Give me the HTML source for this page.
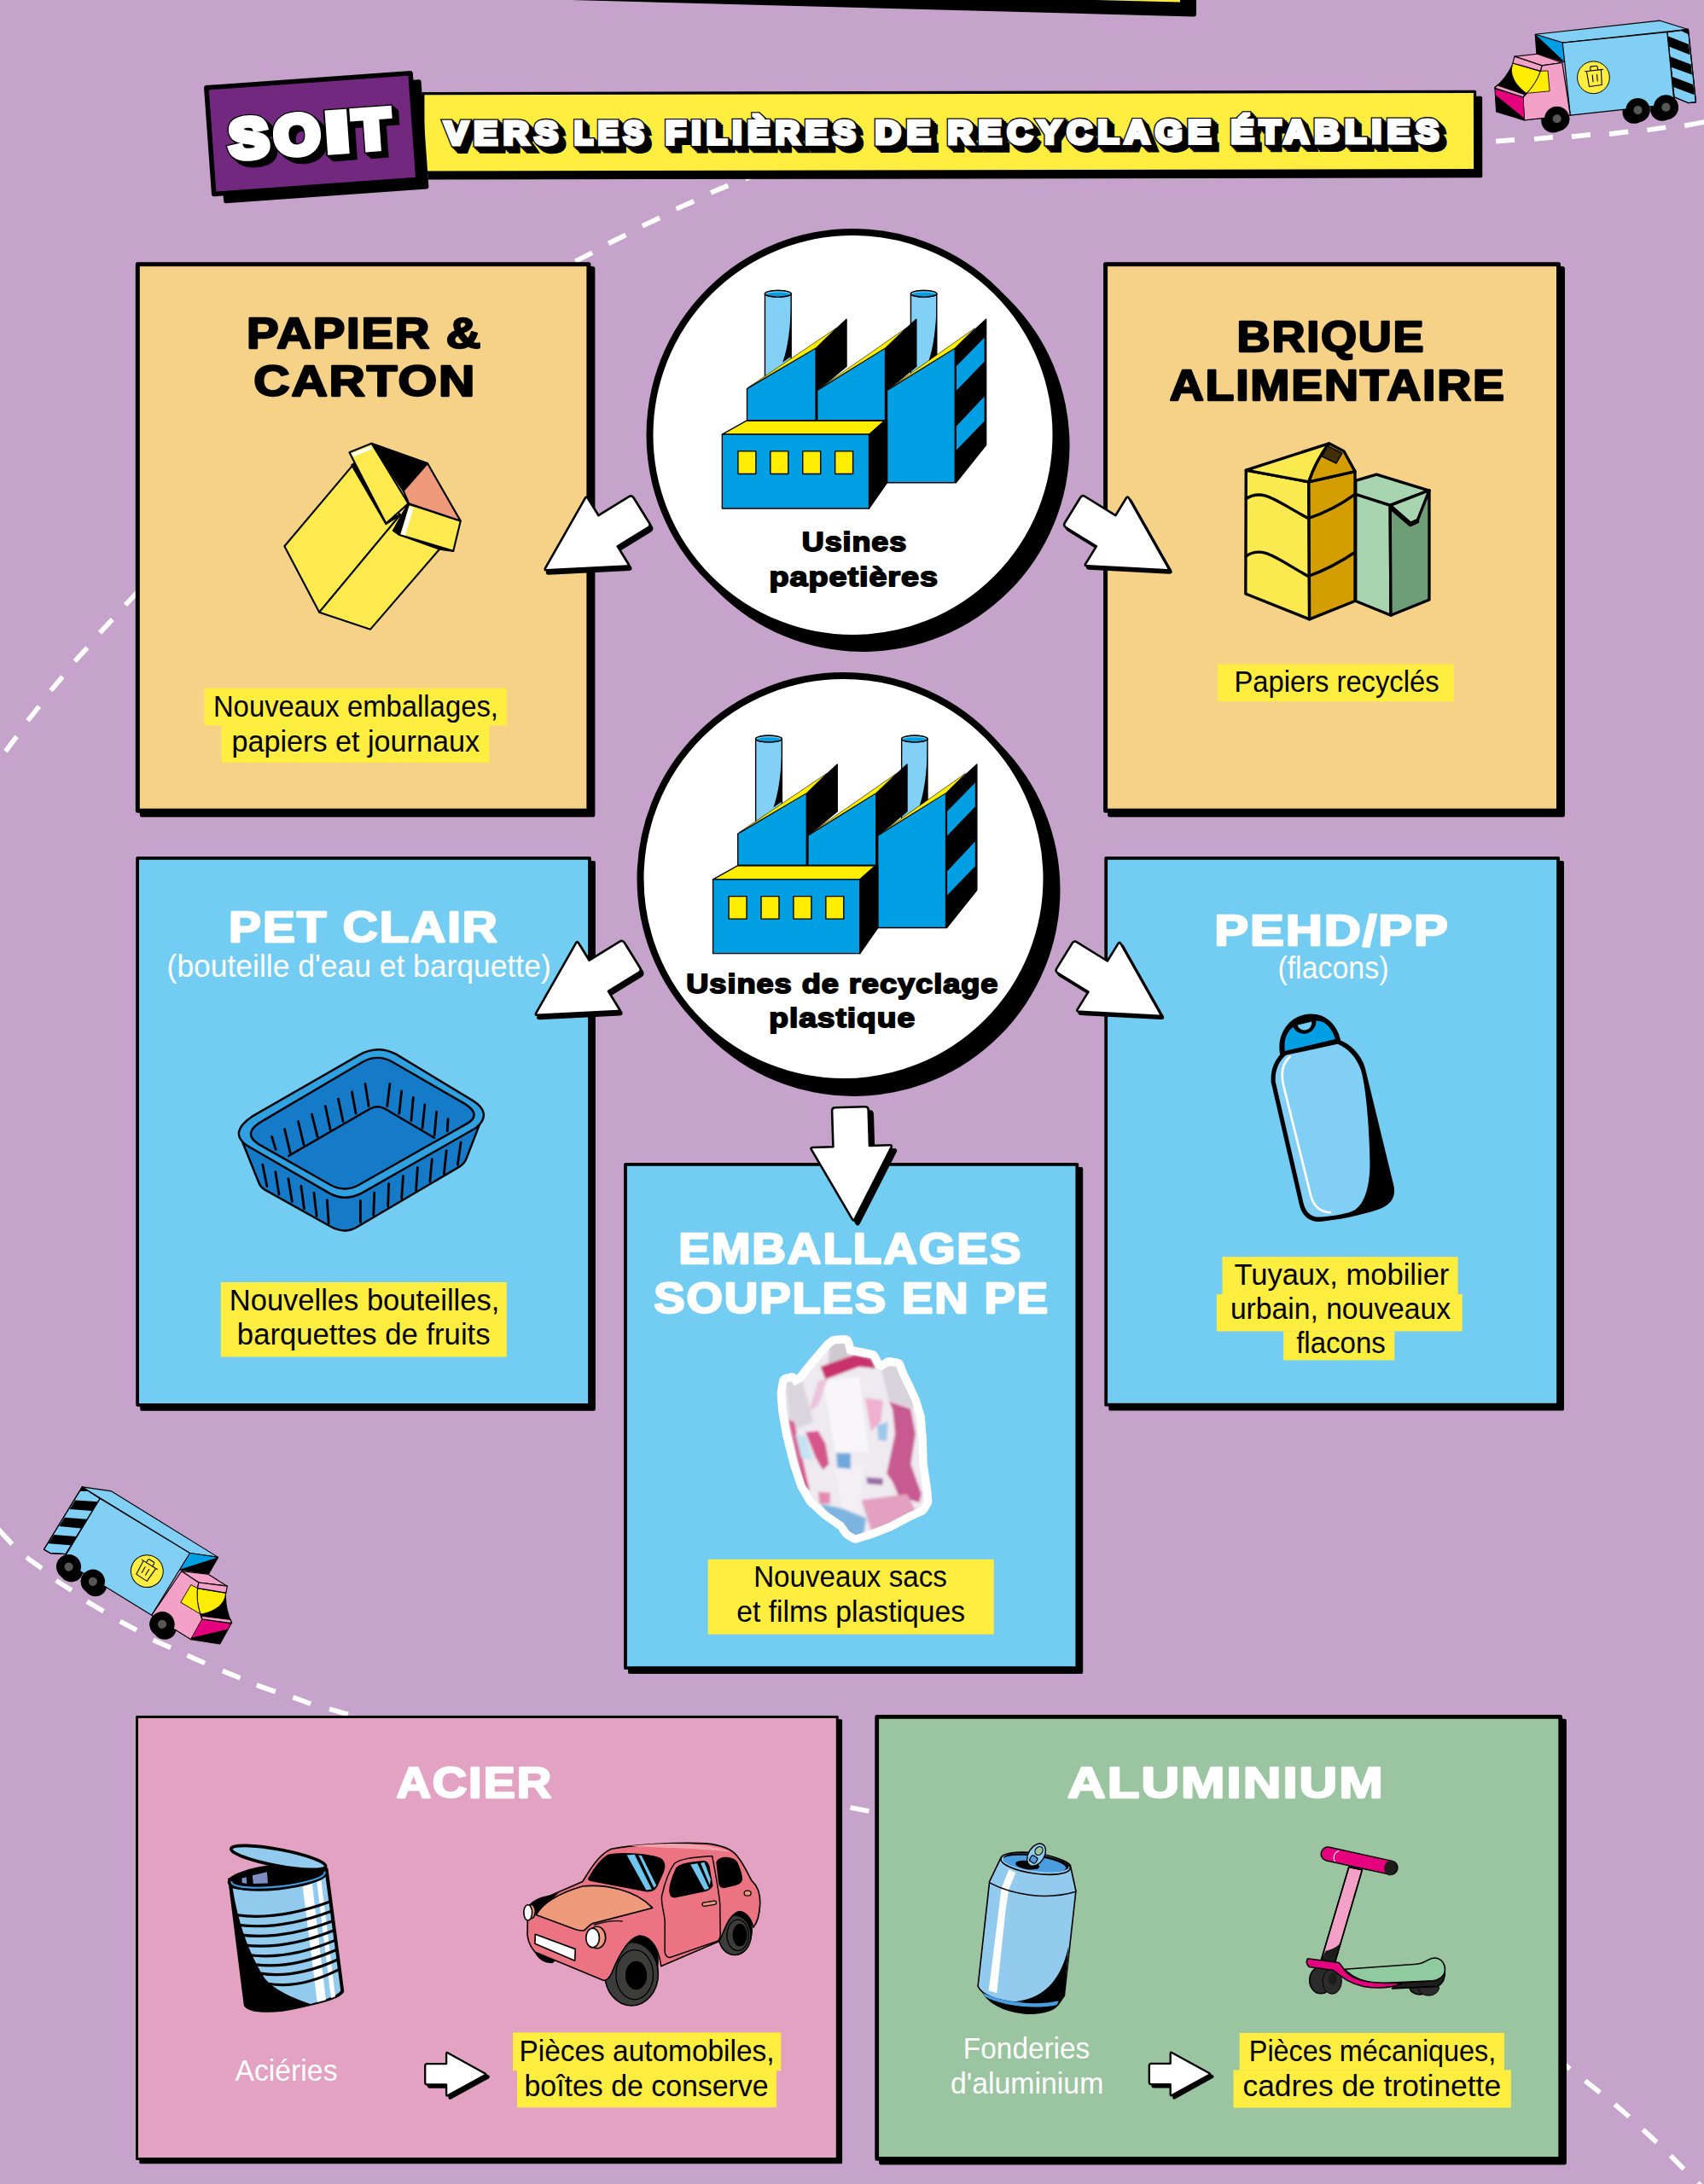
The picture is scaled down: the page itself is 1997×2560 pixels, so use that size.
<!DOCTYPE html>
<html lang="fr"><head><meta charset="utf-8"><title>Recyclage</title>
<style>
html,body{margin:0;padding:0;background:#C5A3CB;}
svg{display:block;}
text{font-family:"Liberation Sans",sans-serif;}
</style></head><body>
<svg width="1997" height="2560" viewBox="0 0 1997 2560">
<rect width="1997" height="2560" fill="#C5A3CB"/>
<defs><g id="truck" transform="scale(0.08216)" stroke="#000" stroke-width="14" stroke-linejoin="round">
<circle cx="2068.8" cy="1234.1" r="164" fill="#000" stroke="none"/>
<circle cx="2123.8" cy="1206.1" r="172" fill="#000" stroke="none"/>
<circle cx="2469.3" cy="1192.7" r="168" fill="#000" stroke="none"/>
<circle cx="2524.3" cy="1164.7" r="176" fill="#000" stroke="none"/>
<circle cx="915" cy="1358" r="170" fill="#000" stroke="none"/>
<circle cx="970" cy="1330" r="178" fill="#000" stroke="none"/>
<polygon points="660,125 2438.8,-70.9 2842.2,53.9 1050,245" fill="#82CFF5" stroke="#000" />
<polygon points="660,125 1050,245 1075,520 680,395" fill="#000" stroke="#000" />
<polygon points="672,135 1050,250 1072,512" fill="#009FE3" stroke="none" />
<polygon points="2541.3,94.9 2842.2,53.7 2951.4,1094.3 2846.6,1103.6 2641.6,1020" fill="#82CFF5" stroke="#000" />
<polygon points="2549.8,149.3 2566.5,299.7 2867.4,416.7 2850.7,266.3" fill="#000" stroke="none" />
<polygon points="2583.2,441.9 2599.9,592.3 2896.8,700.9 2880.1,554.7" fill="#000" stroke="none" />
<polygon points="2612.6,726.1 2633.3,876.5 2930.2,989.3 2913.5,843.1" fill="#000" stroke="none" />
<polygon points="2729.6,69.9 2842.2,53.2 2846.6,124.3" fill="#000" stroke="none" />
<polygon points="2541.3,94.9 2842.2,53.7 2951.4,1094.3 2846.6,1103.6 2641.6,1020" fill="none" stroke="#000" />
<polygon points="1050,245 2541.3,94.9 2643.8,1118.6 1160,1280" fill="#82CFF5" stroke="#000" />
<circle cx="2123.8" cy="1206.1" r="172" fill="#000" stroke="none"/>
<circle cx="2123.8" cy="1206.1" r="62" fill="#575756" stroke="none"/>
<circle cx="2524.3" cy="1164.7" r="176" fill="#000" stroke="none"/>
<circle cx="2524.3" cy="1164.7" r="62" fill="#575756" stroke="none"/>
<circle cx="1490" cy="740" r="230" fill="#FFED3F" stroke-width="12"/>
<g fill="none" stroke-width="13" stroke-linecap="round"><path d="M1395,665 L1430,870 L1610,845 L1600,640"/><path d="M1370,655 L1625,625"/><path d="M1450,640 L1445,600 Q1445,585 1460,583 L1530,575 Q1545,573 1548,588 L1552,630"/><path d="M1475,705 L1485,800"/><path d="M1540,698 L1548,792"/></g>
<polygon points="365,440 690,405 1045,530 755,570" fill="#F3A1C6" stroke="#000" />
<polygon points="755,570 1045,530 1160,1280 505,1350 485,1020 540,965 735,650" fill="#F3A1C6" stroke="#000" />
<path d="M345,535 Q250,760 80,885 L500,1010 L540,965 L735,650 Z" fill="#000"/>
<path d="M340,538 L733,652 C690,780 620,880 535,965 C420,890 300,740 325,600 Z" fill="#FFED00" stroke-width="10"/>
<path d="M735,650 L840,645 L865,935 L540,965 C620,880 690,780 735,650 Z" fill="#FFED00" stroke-width="10"/>
<polygon points="365,440 755,570 735,650 340,535" fill="#F3A1C6" stroke="#000" />
<polygon points="85,900 485,1020 505,1350 105,1230" fill="#000" stroke="#000" />
<polygon points="92,908 485,1024 502,1318 96,992" fill="#E5007D" stroke="none" />
<polygon points="80,890 120,852 515,985 485,1020" fill="#F3A1C6" stroke="#000" />
<circle cx="970" cy="1330" r="178" fill="#000" stroke="none"/>
<circle cx="970" cy="1330" r="62" fill="#575756" stroke="none"/>
</g>
</defs>
<path d="M1753.1,165.7L1775.1,163.9 M1798,163L1819.9,160.8 M1841.9,160.2L1863.9,157.8 M1885.9,157.1L1908.2,154.4 M1930.4,152.5L1952.3,149.2 M1974.1,147.4L1998,143.0 M873.5,209.5L894,202 M833,225.9L853.3,217.5 M792.6,244.9L813.2,235.8 M752.9,264.8L773.2,255.3 M713.2,285.4L733.4,275.4 M674.3,306.3L694.2,296.3 M147,709.1L161.5,693.6 M117,741.8L131.8,726 M87.7,775.1L102.3,759.3 M59.5,809.4L73.4,793.1 M32.5,844.8L45.9,827.9 M6.5,880.7L19.5,863.3 M-2,1792.3L14.2,1810 M31,1825.5L49,1838.4 M65.8,1852.6L83.9,1864.2 M102,1877.2L121.4,1888.8 M140.7,1900.4L160.1,1910.7 M179.5,1922.3L200.1,1931.4 M219.5,1940.4L240.1,1949.5 M260.8,1958.5L281.5,1966.8 M300.8,1975.3L322.8,1983 M343.4,1989.5L364.1,1997.2 M386,2003.2L408,2009.6 M996.4,2118.8L1018.4,2122.9 M1823.1,2411.4L1839.9,2425.1 M1857.8,2439L1875.1,2452.8 M1892.5,2466.7L1909.2,2481.2 M1925.4,2496.2L1941.6,2511.2 M1957.8,2526.8L1973.4,2542.4 M1989.6,2558.6L2003,2572" fill="none" stroke="#fff" stroke-width="5.7"/>
<path d="M669,0 L1402,0 L1402,17 Q1402,19.5 1399,19.4 Z" fill="#000"/>
<polygon points="1284,0 1383,0 1383,2.6" fill="#FFED3F"/>
<use href="#truck" transform="translate(1745,30)"/>
<use href="#truck" transform="translate(190,1903.8) rotate(25.5) scale(-1,1) translate(-79.7,-109.3)"/>
<g transform="rotate(-0.107 497 155)">
<rect x="502.9" y="116.6" width="1232.7" height="92.4" fill="#000" stroke="#000" stroke-width="3.2" stroke-linejoin="round"/>
<rect x="495.9" y="109.6" width="1232.7" height="92.4" fill="#FFED3F" stroke="#000" stroke-width="3.2" stroke-linejoin="round"/>
<text x="521.01" y="169.3" font-size="38" font-weight="bold" letter-spacing="6.5" textLength="140.04" lengthAdjust="spacingAndGlyphs" stroke-linejoin="miter" stroke-miterlimit="2.5" fill="#000" stroke="#000" stroke-width="7.199999999999999" transform="translate(7.20,7.20)">VERS</text>
<text x="521.01" y="169.3" font-size="38" font-weight="bold" letter-spacing="6.5" textLength="140.04" lengthAdjust="spacingAndGlyphs" stroke-linejoin="miter" stroke-miterlimit="2.5" fill="#000" stroke="#000" stroke-width="7.199999999999999" transform="translate(5.40,5.40)">VERS</text>
<text x="521.01" y="169.3" font-size="38" font-weight="bold" letter-spacing="6.5" textLength="140.04" lengthAdjust="spacingAndGlyphs" stroke-linejoin="miter" stroke-miterlimit="2.5" fill="#000" stroke="#000" stroke-width="7.199999999999999" transform="translate(3.60,3.60)">VERS</text>
<text x="521.01" y="169.3" font-size="38" font-weight="bold" letter-spacing="6.5" textLength="140.04" lengthAdjust="spacingAndGlyphs" stroke-linejoin="miter" stroke-miterlimit="2.5" fill="#000" stroke="#000" stroke-width="7.199999999999999" transform="translate(1.80,1.80)">VERS</text>
<text x="672.87" y="169.3" font-size="38" font-weight="bold" letter-spacing="6.5" textLength="87.88" lengthAdjust="spacingAndGlyphs" stroke-linejoin="miter" stroke-miterlimit="2.5" fill="#000" stroke="#000" stroke-width="7.199999999999999" transform="translate(7.20,7.20)">LES</text>
<text x="672.87" y="169.3" font-size="38" font-weight="bold" letter-spacing="6.5" textLength="87.88" lengthAdjust="spacingAndGlyphs" stroke-linejoin="miter" stroke-miterlimit="2.5" fill="#000" stroke="#000" stroke-width="7.199999999999999" transform="translate(5.40,5.40)">LES</text>
<text x="672.87" y="169.3" font-size="38" font-weight="bold" letter-spacing="6.5" textLength="87.88" lengthAdjust="spacingAndGlyphs" stroke-linejoin="miter" stroke-miterlimit="2.5" fill="#000" stroke="#000" stroke-width="7.199999999999999" transform="translate(3.60,3.60)">LES</text>
<text x="672.87" y="169.3" font-size="38" font-weight="bold" letter-spacing="6.5" textLength="87.88" lengthAdjust="spacingAndGlyphs" stroke-linejoin="miter" stroke-miterlimit="2.5" fill="#000" stroke="#000" stroke-width="7.199999999999999" transform="translate(1.80,1.80)">LES</text>
<text x="779.95" y="169.3" font-size="38" font-weight="bold" letter-spacing="6.5" textLength="229.29" lengthAdjust="spacingAndGlyphs" stroke-linejoin="miter" stroke-miterlimit="2.5" fill="#000" stroke="#000" stroke-width="7.199999999999999" transform="translate(7.20,7.20)">FILIÈRES</text>
<text x="779.95" y="169.3" font-size="38" font-weight="bold" letter-spacing="6.5" textLength="229.29" lengthAdjust="spacingAndGlyphs" stroke-linejoin="miter" stroke-miterlimit="2.5" fill="#000" stroke="#000" stroke-width="7.199999999999999" transform="translate(5.40,5.40)">FILIÈRES</text>
<text x="779.95" y="169.3" font-size="38" font-weight="bold" letter-spacing="6.5" textLength="229.29" lengthAdjust="spacingAndGlyphs" stroke-linejoin="miter" stroke-miterlimit="2.5" fill="#000" stroke="#000" stroke-width="7.199999999999999" transform="translate(3.60,3.60)">FILIÈRES</text>
<text x="779.95" y="169.3" font-size="38" font-weight="bold" letter-spacing="6.5" textLength="229.29" lengthAdjust="spacingAndGlyphs" stroke-linejoin="miter" stroke-miterlimit="2.5" fill="#000" stroke="#000" stroke-width="7.199999999999999" transform="translate(1.80,1.80)">FILIÈRES</text>
<text x="1025.74" y="169.3" font-size="38" font-weight="bold" letter-spacing="6.5" textLength="71.54" lengthAdjust="spacingAndGlyphs" stroke-linejoin="miter" stroke-miterlimit="2.5" fill="#000" stroke="#000" stroke-width="7.199999999999999" transform="translate(7.20,7.20)">DE</text>
<text x="1025.74" y="169.3" font-size="38" font-weight="bold" letter-spacing="6.5" textLength="71.54" lengthAdjust="spacingAndGlyphs" stroke-linejoin="miter" stroke-miterlimit="2.5" fill="#000" stroke="#000" stroke-width="7.199999999999999" transform="translate(5.40,5.40)">DE</text>
<text x="1025.74" y="169.3" font-size="38" font-weight="bold" letter-spacing="6.5" textLength="71.54" lengthAdjust="spacingAndGlyphs" stroke-linejoin="miter" stroke-miterlimit="2.5" fill="#000" stroke="#000" stroke-width="7.199999999999999" transform="translate(3.60,3.60)">DE</text>
<text x="1025.74" y="169.3" font-size="38" font-weight="bold" letter-spacing="6.5" textLength="71.54" lengthAdjust="spacingAndGlyphs" stroke-linejoin="miter" stroke-miterlimit="2.5" fill="#000" stroke="#000" stroke-width="7.199999999999999" transform="translate(1.80,1.80)">DE</text>
<text x="1110.74" y="169.3" font-size="38" font-weight="bold" letter-spacing="6.5" textLength="315.29" lengthAdjust="spacingAndGlyphs" stroke-linejoin="miter" stroke-miterlimit="2.5" fill="#000" stroke="#000" stroke-width="7.199999999999999" transform="translate(7.20,7.20)">RECYCLAGE</text>
<text x="1110.74" y="169.3" font-size="38" font-weight="bold" letter-spacing="6.5" textLength="315.29" lengthAdjust="spacingAndGlyphs" stroke-linejoin="miter" stroke-miterlimit="2.5" fill="#000" stroke="#000" stroke-width="7.199999999999999" transform="translate(5.40,5.40)">RECYCLAGE</text>
<text x="1110.74" y="169.3" font-size="38" font-weight="bold" letter-spacing="6.5" textLength="315.29" lengthAdjust="spacingAndGlyphs" stroke-linejoin="miter" stroke-miterlimit="2.5" fill="#000" stroke="#000" stroke-width="7.199999999999999" transform="translate(3.60,3.60)">RECYCLAGE</text>
<text x="1110.74" y="169.3" font-size="38" font-weight="bold" letter-spacing="6.5" textLength="315.29" lengthAdjust="spacingAndGlyphs" stroke-linejoin="miter" stroke-miterlimit="2.5" fill="#000" stroke="#000" stroke-width="7.199999999999999" transform="translate(1.80,1.80)">RECYCLAGE</text>
<text x="1442.64" y="169.3" font-size="38" font-weight="bold" letter-spacing="6.5" textLength="250.36" lengthAdjust="spacingAndGlyphs" stroke-linejoin="miter" stroke-miterlimit="2.5" fill="#000" stroke="#000" stroke-width="7.199999999999999" transform="translate(7.20,7.20)">ÉTABLIES</text>
<text x="1442.64" y="169.3" font-size="38" font-weight="bold" letter-spacing="6.5" textLength="250.36" lengthAdjust="spacingAndGlyphs" stroke-linejoin="miter" stroke-miterlimit="2.5" fill="#000" stroke="#000" stroke-width="7.199999999999999" transform="translate(5.40,5.40)">ÉTABLIES</text>
<text x="1442.64" y="169.3" font-size="38" font-weight="bold" letter-spacing="6.5" textLength="250.36" lengthAdjust="spacingAndGlyphs" stroke-linejoin="miter" stroke-miterlimit="2.5" fill="#000" stroke="#000" stroke-width="7.199999999999999" transform="translate(3.60,3.60)">ÉTABLIES</text>
<text x="1442.64" y="169.3" font-size="38" font-weight="bold" letter-spacing="6.5" textLength="250.36" lengthAdjust="spacingAndGlyphs" stroke-linejoin="miter" stroke-miterlimit="2.5" fill="#000" stroke="#000" stroke-width="7.199999999999999" transform="translate(1.80,1.80)">ÉTABLIES</text>
<text x="521.01" y="169.3" font-size="38" font-weight="bold" letter-spacing="6.5" textLength="140.04" lengthAdjust="spacingAndGlyphs" stroke-linejoin="miter" stroke-miterlimit="2.5" fill="#000" stroke="#000" stroke-width="7.199999999999999">VERS</text>
<text x="672.87" y="169.3" font-size="38" font-weight="bold" letter-spacing="6.5" textLength="87.88" lengthAdjust="spacingAndGlyphs" stroke-linejoin="miter" stroke-miterlimit="2.5" fill="#000" stroke="#000" stroke-width="7.199999999999999">LES</text>
<text x="779.95" y="169.3" font-size="38" font-weight="bold" letter-spacing="6.5" textLength="229.29" lengthAdjust="spacingAndGlyphs" stroke-linejoin="miter" stroke-miterlimit="2.5" fill="#000" stroke="#000" stroke-width="7.199999999999999">FILIÈRES</text>
<text x="1025.74" y="169.3" font-size="38" font-weight="bold" letter-spacing="6.5" textLength="71.54" lengthAdjust="spacingAndGlyphs" stroke-linejoin="miter" stroke-miterlimit="2.5" fill="#000" stroke="#000" stroke-width="7.199999999999999">DE</text>
<text x="1110.74" y="169.3" font-size="38" font-weight="bold" letter-spacing="6.5" textLength="315.29" lengthAdjust="spacingAndGlyphs" stroke-linejoin="miter" stroke-miterlimit="2.5" fill="#000" stroke="#000" stroke-width="7.199999999999999">RECYCLAGE</text>
<text x="1442.64" y="169.3" font-size="38" font-weight="bold" letter-spacing="6.5" textLength="250.36" lengthAdjust="spacingAndGlyphs" stroke-linejoin="miter" stroke-miterlimit="2.5" fill="#000" stroke="#000" stroke-width="7.199999999999999">ÉTABLIES</text>
<text x="521.01" y="169.3" font-size="38" font-weight="bold" letter-spacing="6.5" textLength="140.04" lengthAdjust="spacingAndGlyphs" stroke-linejoin="miter" stroke-miterlimit="2.5" fill="#fff" stroke="#fff" stroke-width="4.6">VERS</text>
<text x="672.87" y="169.3" font-size="38" font-weight="bold" letter-spacing="6.5" textLength="87.88" lengthAdjust="spacingAndGlyphs" stroke-linejoin="miter" stroke-miterlimit="2.5" fill="#fff" stroke="#fff" stroke-width="4.6">LES</text>
<text x="779.95" y="169.3" font-size="38" font-weight="bold" letter-spacing="6.5" textLength="229.29" lengthAdjust="spacingAndGlyphs" stroke-linejoin="miter" stroke-miterlimit="2.5" fill="#fff" stroke="#fff" stroke-width="4.6">FILIÈRES</text>
<text x="1025.74" y="169.3" font-size="38" font-weight="bold" letter-spacing="6.5" textLength="71.54" lengthAdjust="spacingAndGlyphs" stroke-linejoin="miter" stroke-miterlimit="2.5" fill="#fff" stroke="#fff" stroke-width="4.6">DE</text>
<text x="1110.74" y="169.3" font-size="38" font-weight="bold" letter-spacing="6.5" textLength="315.29" lengthAdjust="spacingAndGlyphs" stroke-linejoin="miter" stroke-miterlimit="2.5" fill="#fff" stroke="#fff" stroke-width="4.6">RECYCLAGE</text>
<text x="1442.64" y="169.3" font-size="38" font-weight="bold" letter-spacing="6.5" textLength="250.36" lengthAdjust="spacingAndGlyphs" stroke-linejoin="miter" stroke-miterlimit="2.5" fill="#fff" stroke="#fff" stroke-width="4.6">ÉTABLIES</text>
</g>
<g transform="translate(365.9,156.6) rotate(-4.1)">
<rect x="-109.2" y="-54.3" width="240.9" height="128.6" rx="2.5" fill="#000"/>
<rect x="-119.9" y="-62.5" width="239.8" height="125" fill="#72287F" stroke="#000" stroke-width="5.6" stroke-linejoin="round"/>
<text y="22.3" font-size="64.5" font-weight="bold" stroke-linejoin="miter" stroke-miterlimit="2.5" fill="#000" stroke="#000" stroke-width="10.6" transform="translate(6.80,6.80)"><tspan x="-97.51" textLength="45.93" lengthAdjust="spacingAndGlyphs">S</tspan><tspan x="-44.56" textLength="53.29" lengthAdjust="spacingAndGlyphs">O</tspan><tspan x="15.94" textLength="26.43" lengthAdjust="spacingAndGlyphs">I</tspan><tspan x="48.82" textLength="42.33" lengthAdjust="spacingAndGlyphs">T</tspan></text>
<text y="22.3" font-size="64.5" font-weight="bold" stroke-linejoin="miter" stroke-miterlimit="2.5" fill="#000" stroke="#000" stroke-width="10.6" transform="translate(5.10,5.10)"><tspan x="-97.51" textLength="45.93" lengthAdjust="spacingAndGlyphs">S</tspan><tspan x="-44.56" textLength="53.29" lengthAdjust="spacingAndGlyphs">O</tspan><tspan x="15.94" textLength="26.43" lengthAdjust="spacingAndGlyphs">I</tspan><tspan x="48.82" textLength="42.33" lengthAdjust="spacingAndGlyphs">T</tspan></text>
<text y="22.3" font-size="64.5" font-weight="bold" stroke-linejoin="miter" stroke-miterlimit="2.5" fill="#000" stroke="#000" stroke-width="10.6" transform="translate(3.40,3.40)"><tspan x="-97.51" textLength="45.93" lengthAdjust="spacingAndGlyphs">S</tspan><tspan x="-44.56" textLength="53.29" lengthAdjust="spacingAndGlyphs">O</tspan><tspan x="15.94" textLength="26.43" lengthAdjust="spacingAndGlyphs">I</tspan><tspan x="48.82" textLength="42.33" lengthAdjust="spacingAndGlyphs">T</tspan></text>
<text y="22.3" font-size="64.5" font-weight="bold" stroke-linejoin="miter" stroke-miterlimit="2.5" fill="#000" stroke="#000" stroke-width="10.6" transform="translate(1.70,1.70)"><tspan x="-97.51" textLength="45.93" lengthAdjust="spacingAndGlyphs">S</tspan><tspan x="-44.56" textLength="53.29" lengthAdjust="spacingAndGlyphs">O</tspan><tspan x="15.94" textLength="26.43" lengthAdjust="spacingAndGlyphs">I</tspan><tspan x="48.82" textLength="42.33" lengthAdjust="spacingAndGlyphs">T</tspan></text>
<text y="22.3" font-size="64.5" font-weight="bold" stroke-linejoin="miter" stroke-miterlimit="2.5" fill="#000" stroke="#000" stroke-width="10.6"><tspan x="-97.51" textLength="45.93" lengthAdjust="spacingAndGlyphs">S</tspan><tspan x="-44.56" textLength="53.29" lengthAdjust="spacingAndGlyphs">O</tspan><tspan x="15.94" textLength="26.43" lengthAdjust="spacingAndGlyphs">I</tspan><tspan x="48.82" textLength="42.33" lengthAdjust="spacingAndGlyphs">T</tspan></text>
<text y="22.3" font-size="64.5" font-weight="bold" stroke-linejoin="miter" stroke-miterlimit="2.5" fill="#fff" stroke="#fff" stroke-width="8"><tspan x="-97.51" textLength="45.93" lengthAdjust="spacingAndGlyphs">S</tspan><tspan x="-44.56" textLength="53.29" lengthAdjust="spacingAndGlyphs">O</tspan><tspan x="15.94" textLength="26.43" lengthAdjust="spacingAndGlyphs">I</tspan><tspan x="48.82" textLength="42.33" lengthAdjust="spacingAndGlyphs">T</tspan></text>
</g>
<rect x="166.3" y="314.7" width="528.6" height="640.5" fill="#000" stroke="#000" stroke-width="5" stroke-linejoin="round"/>
<rect x="161.3" y="309.7" width="528.6" height="640.5" fill="#F5D287" stroke="#000" stroke-width="5" stroke-linejoin="round"/>
<rect x="1300.6" y="314.8" width="530.9" height="640.5" fill="#000" stroke="#000" stroke-width="5" stroke-linejoin="round"/>
<rect x="1295.6" y="309.8" width="530.9" height="640.5" fill="#F5D287" stroke="#000" stroke-width="5" stroke-linejoin="round"/>
<rect x="166.1" y="1010.9" width="529.9" height="640.9" fill="#000" stroke="#000" stroke-width="3.8" stroke-linejoin="round"/>
<rect x="161.1" y="1005.9" width="529.9" height="640.9" fill="#73CDF3" stroke="#000" stroke-width="3.8" stroke-linejoin="round"/>
<rect x="1301.2" y="1010.8" width="529.9" height="640.9" fill="#000" stroke="#000" stroke-width="3.8" stroke-linejoin="round"/>
<rect x="1296.2" y="1005.8" width="529.9" height="640.9" fill="#73CDF3" stroke="#000" stroke-width="3.8" stroke-linejoin="round"/>
<rect x="738.0" y="1369.8" width="529.3" height="590.4" fill="#000" stroke="#000" stroke-width="3.8" stroke-linejoin="round"/>
<rect x="733.0" y="1364.8" width="529.3" height="590.4" fill="#73CDF3" stroke="#000" stroke-width="3.8" stroke-linejoin="round"/>
<rect x="164.8" y="2016.7" width="820.8" height="518.0" fill="#000" stroke="#000" stroke-width="3" stroke-linejoin="round"/>
<rect x="160.5" y="2012.4" width="820.8" height="518.0" fill="#E3A2C1" stroke="#000" stroke-width="3" stroke-linejoin="round"/>
<rect x="1032.5" y="2017.2" width="801.0" height="518.0" fill="#000" stroke="#000" stroke-width="4.8" stroke-linejoin="round"/>
<rect x="1027.7" y="2012.4" width="801.0" height="518.0" fill="#9BC5A0" stroke="#000" stroke-width="4.8" stroke-linejoin="round"/>
<circle cx="1011.5" cy="522" r="242" fill="#000"/>
<circle cx="999.5" cy="510" r="238" fill="#fff" stroke="#000" stroke-width="8"/>
<circle cx="1000.5" cy="1043" r="242" fill="#000"/>
<circle cx="988.5" cy="1030" r="238" fill="#fff" stroke="#000" stroke-width="8"/>
<g transform="translate(830,320) scale(0.19953)" stroke="#000" stroke-width="7" stroke-linejoin="round">
<path d="M333,122 L333,620 L487,520 L487,122 Z" fill="#82D0F5"/>
<path d="M487,170 Q482,400 437,525 L487,490 Z" fill="#000" stroke="none"/>
<ellipse cx="410.0" cy="122" rx="77.0" ry="19" fill="#009FE3"/>
<path d="M333,122 A77.0,19 0 0 0 487,122 A77.0,19 0 0 0 333,122 M341,126 A69.0,13 0 0 1 479,126 A77.0,19 0 0 1 341,126Z" fill="#82D0F5" stroke="none"/>
<ellipse cx="410.0" cy="122" rx="77.0" ry="19" fill="none"/>
<path d="M1190,122 L1190,620 L1342,520 L1342,122 Z" fill="#82D0F5"/>
<path d="M1342,170 Q1337,400 1292,525 L1342,490 Z" fill="#000" stroke="none"/>
<ellipse cx="1266.0" cy="122" rx="76.0" ry="19" fill="#009FE3"/>
<path d="M1190,122 A76.0,19 0 0 0 1342,122 A76.0,19 0 0 0 1190,122 M1198,126 A68.0,13 0 0 1 1334,126 A76.0,19 0 0 1 1198,126Z" fill="#82D0F5" stroke="none"/>
<ellipse cx="1266.0" cy="122" rx="76.0" ry="19" fill="none"/>
<polygon points="632,440 812,272 812,548 640,690 640,865 632,865" fill="#000" stroke="#000" />
<polygon points="228,680 632,440 632,865 228,865" fill="#009FE3" stroke="#000" />
<polygon points="236,672 750,325 632,440" fill="#FFED00" stroke="#000" stroke-width="3" />
<polygon points="1040,440 1222,272 1222,548 1050,690 1050,865 1040,865" fill="#000" stroke="#000" />
<polygon points="640,690 1040,440 1040,865 640,865" fill="#009FE3" stroke="#000" />
<polygon points="648,682 1160,325 1040,440" fill="#FFED00" stroke="#000" stroke-width="3" />
<polygon points="1450,440 1632,272 1632,1010 1455,1232" fill="#000" stroke="#000" />
<polygon points="1458,548 1622,380 1622,520 1458,690" fill="#009FE3" stroke="none" />
<polygon points="1458,900 1622,725 1622,870 1458,1040" fill="#009FE3" stroke="none" />
<polygon points="1050,690 1450,440 1450,1232 1050,1232" fill="#009FE3" stroke="#000" />
<polygon points="1058,682 1565,325 1450,440" fill="#FFED00" stroke="#000" stroke-width="3" />
<polygon points="945,948 1035,868 1050,868 1050,1232 945,1383" fill="#000" stroke="#000" />
<polygon points="82,948 225,868 1035,868 945,948" fill="#FFED00" stroke="#000" />
<polygon points="82,948 945,948 945,1383 82,1383" fill="#009FE3" stroke="#000" />
<rect x="175" y="1047" width="105" height="133" fill="#FFED00"/>
<rect x="365" y="1047" width="105" height="133" fill="#FFED00"/>
<rect x="555" y="1047" width="105" height="133" fill="#FFED00"/>
<rect x="745" y="1047" width="105" height="133" fill="#FFED00"/>
</g>
<g transform="translate(819.2,841.7) scale(0.19953)" stroke="#000" stroke-width="7" stroke-linejoin="round">
<path d="M333,122 L333,620 L487,520 L487,122 Z" fill="#82D0F5"/>
<path d="M487,170 Q482,400 437,525 L487,490 Z" fill="#000" stroke="none"/>
<ellipse cx="410.0" cy="122" rx="77.0" ry="19" fill="#009FE3"/>
<path d="M333,122 A77.0,19 0 0 0 487,122 A77.0,19 0 0 0 333,122 M341,126 A69.0,13 0 0 1 479,126 A77.0,19 0 0 1 341,126Z" fill="#82D0F5" stroke="none"/>
<ellipse cx="410.0" cy="122" rx="77.0" ry="19" fill="none"/>
<path d="M1190,122 L1190,620 L1342,520 L1342,122 Z" fill="#82D0F5"/>
<path d="M1342,170 Q1337,400 1292,525 L1342,490 Z" fill="#000" stroke="none"/>
<ellipse cx="1266.0" cy="122" rx="76.0" ry="19" fill="#009FE3"/>
<path d="M1190,122 A76.0,19 0 0 0 1342,122 A76.0,19 0 0 0 1190,122 M1198,126 A68.0,13 0 0 1 1334,126 A76.0,19 0 0 1 1198,126Z" fill="#82D0F5" stroke="none"/>
<ellipse cx="1266.0" cy="122" rx="76.0" ry="19" fill="none"/>
<polygon points="632,440 812,272 812,548 640,690 640,865 632,865" fill="#000" stroke="#000" />
<polygon points="228,680 632,440 632,865 228,865" fill="#009FE3" stroke="#000" />
<polygon points="236,672 750,325 632,440" fill="#FFED00" stroke="#000" stroke-width="3" />
<polygon points="1040,440 1222,272 1222,548 1050,690 1050,865 1040,865" fill="#000" stroke="#000" />
<polygon points="640,690 1040,440 1040,865 640,865" fill="#009FE3" stroke="#000" />
<polygon points="648,682 1160,325 1040,440" fill="#FFED00" stroke="#000" stroke-width="3" />
<polygon points="1450,440 1632,272 1632,1010 1455,1232" fill="#000" stroke="#000" />
<polygon points="1458,548 1622,380 1622,520 1458,690" fill="#009FE3" stroke="none" />
<polygon points="1458,900 1622,725 1622,870 1458,1040" fill="#009FE3" stroke="none" />
<polygon points="1050,690 1450,440 1450,1232 1050,1232" fill="#009FE3" stroke="#000" />
<polygon points="1058,682 1565,325 1450,440" fill="#FFED00" stroke="#000" stroke-width="3" />
<polygon points="945,948 1035,868 1050,868 1050,1232 945,1383" fill="#000" stroke="#000" />
<polygon points="82,948 225,868 1035,868 945,948" fill="#FFED00" stroke="#000" />
<polygon points="82,948 945,948 945,1383 82,1383" fill="#009FE3" stroke="#000" />
<rect x="175" y="1047" width="105" height="133" fill="#FFED00"/>
<rect x="365" y="1047" width="105" height="133" fill="#FFED00"/>
<rect x="555" y="1047" width="105" height="133" fill="#FFED00"/>
<rect x="745" y="1047" width="105" height="133" fill="#FFED00"/>
</g>
<path d="M760.8,612.9 Q762.9,616.3 759.5,618.4 L723.7,640.4 L736.2,660.8 Q737.8,663.4 734.8,663.5 L640.6,668.3 Q637.6,668.4 639.1,665.8 L685.8,583.9 Q687.3,581.3 688.8,583.8 L701.4,604.2 L737.1,582.2 Q740.5,580.1 742.6,583.5 Z" transform="translate(2.5,4.2)" fill="#000" stroke="#000" stroke-width="2.6" stroke-linejoin="round"/>
<path d="M760.8,612.9 Q762.9,616.3 759.5,618.4 L723.7,640.4 L736.2,660.8 Q737.8,663.4 734.8,663.5 L640.6,668.3 Q637.6,668.4 639.1,665.8 L685.8,583.9 Q687.3,581.3 688.8,583.8 L701.4,604.2 L737.1,582.2 Q740.5,580.1 742.6,583.5 Z" fill="#fff" stroke="#000" stroke-width="2.6" stroke-linejoin="round"/>
<path d="M1266.1,583.3 Q1268.2,579.9 1271.6,582.0 L1307.3,604.2 L1319.9,583.8 Q1321.5,581.3 1323.0,583.9 L1369.5,666.0 Q1370.9,668.6 1367.9,668.4 L1273.7,663.4 Q1270.7,663.2 1272.3,660.7 L1284.9,640.4 L1249.2,618.3 Q1245.8,616.2 1247.9,612.8 Z" transform="translate(2.5,3)" fill="#000" stroke="#000" stroke-width="2.6" stroke-linejoin="round"/>
<path d="M1266.1,583.3 Q1268.2,579.9 1271.6,582.0 L1307.3,604.2 L1319.9,583.8 Q1321.5,581.3 1323.0,583.9 L1369.5,666.0 Q1370.9,668.6 1367.9,668.4 L1273.7,663.4 Q1270.7,663.2 1272.3,660.7 L1284.9,640.4 L1249.2,618.3 Q1245.8,616.2 1247.9,612.8 Z" fill="#fff" stroke="#000" stroke-width="2.6" stroke-linejoin="round"/>
<path d="M750.0,1134.4 Q752.1,1137.8 748.7,1139.9 L712.9,1161.9 L725.4,1182.3 Q727.0,1184.9 724.0,1185.0 L629.8,1189.8 Q626.8,1189.9 628.3,1187.3 L675.0,1105.4 Q676.5,1102.8 678.0,1105.3 L690.6,1125.7 L726.3,1103.7 Q729.7,1101.6 731.8,1105.0 Z" transform="translate(2.5,4.2)" fill="#000" stroke="#000" stroke-width="2.6" stroke-linejoin="round"/>
<path d="M750.0,1134.4 Q752.1,1137.8 748.7,1139.9 L712.9,1161.9 L725.4,1182.3 Q727.0,1184.9 724.0,1185.0 L629.8,1189.8 Q626.8,1189.9 628.3,1187.3 L675.0,1105.4 Q676.5,1102.8 678.0,1105.3 L690.6,1125.7 L726.3,1103.7 Q729.7,1101.6 731.8,1105.0 Z" fill="#fff" stroke="#000" stroke-width="2.6" stroke-linejoin="round"/>
<path d="M1256.6,1105.6 Q1258.7,1102.2 1262.1,1104.3 L1297.8,1126.5 L1310.4,1106.1 Q1312.0,1103.6 1313.5,1106.2 L1360.0,1188.3 Q1361.4,1190.9 1358.4,1190.7 L1264.2,1185.7 Q1261.2,1185.5 1262.8,1183.0 L1275.4,1162.7 L1239.7,1140.6 Q1236.3,1138.5 1238.4,1135.1 Z" transform="translate(2.5,3)" fill="#000" stroke="#000" stroke-width="2.6" stroke-linejoin="round"/>
<path d="M1256.6,1105.6 Q1258.7,1102.2 1262.1,1104.3 L1297.8,1126.5 L1310.4,1106.1 Q1312.0,1103.6 1313.5,1106.2 L1360.0,1188.3 Q1361.4,1190.9 1358.4,1190.7 L1264.2,1185.7 Q1261.2,1185.5 1262.8,1183.0 L1275.4,1162.7 L1239.7,1140.6 Q1236.3,1138.5 1238.4,1135.1 Z" fill="#fff" stroke="#000" stroke-width="2.6" stroke-linejoin="round"/>
<path d="M1013.6,1297.2 Q1017.6,1297.1 1017.7,1301.1 L1019.0,1343.0 L1042.8,1342.3 Q1045.8,1342.2 1044.5,1344.9 L1001.6,1429.0 Q1000.3,1431.6 998.8,1429.1 L951.0,1347.7 Q949.5,1345.1 952.5,1345.0 L976.4,1344.3 L975.1,1302.3 Q975.0,1298.3 979.0,1298.2 Z" transform="translate(5,5)" fill="#000" stroke="#000" stroke-width="2.6" stroke-linejoin="round"/>
<path d="M1013.6,1297.2 Q1017.6,1297.1 1017.7,1301.1 L1019.0,1343.0 L1042.8,1342.3 Q1045.8,1342.2 1044.5,1344.9 L1001.6,1429.0 Q1000.3,1431.6 998.8,1429.1 L951.0,1347.7 Q949.5,1345.1 952.5,1345.0 L976.4,1344.3 L975.1,1302.3 Q975.0,1298.3 979.0,1298.2 Z" fill="#fff" stroke="#000" stroke-width="2.6" stroke-linejoin="round"/>
<path d="M498.2,2421.5 Q498.2,2419.1 500.6,2419.1 L523.1,2419.1 L523.1,2407.2 Q523.1,2405.4 524.7,2406.3 L568.5,2430.4 Q570.1,2431.3 568.5,2432.2 L524.7,2456.3 Q523.1,2457.2 523.1,2455.4 L523.1,2443.5 L500.6,2443.5 Q498.2,2443.5 498.2,2441.1 Z" transform="translate(3.5,3.2)" fill="#000" stroke="#000" stroke-width="2.3" stroke-linejoin="round"/>
<path d="M498.2,2421.5 Q498.2,2419.1 500.6,2419.1 L523.1,2419.1 L523.1,2407.2 Q523.1,2405.4 524.7,2406.3 L568.5,2430.4 Q570.1,2431.3 568.5,2432.2 L524.7,2456.3 Q523.1,2457.2 523.1,2455.4 L523.1,2443.5 L500.6,2443.5 Q498.2,2443.5 498.2,2441.1 Z" fill="#fff" stroke="#000" stroke-width="2.3" stroke-linejoin="round"/>
<path d="M1346.8,2421.2 Q1346.8,2418.8 1349.2,2418.8 L1371.7,2418.8 L1371.7,2406.9 Q1371.7,2405.1 1373.3,2406.0 L1417.1,2430.1 Q1418.7,2431.0 1417.1,2431.9 L1373.3,2456.0 Q1371.7,2456.9 1371.7,2455.1 L1371.7,2443.2 L1349.2,2443.2 Q1346.8,2443.2 1346.8,2440.8 Z" transform="translate(3.5,3.2)" fill="#000" stroke="#000" stroke-width="2.3" stroke-linejoin="round"/>
<path d="M1346.8,2421.2 Q1346.8,2418.8 1349.2,2418.8 L1371.7,2418.8 L1371.7,2406.9 Q1371.7,2405.1 1373.3,2406.0 L1417.1,2430.1 Q1418.7,2431.0 1417.1,2431.9 L1373.3,2456.0 Q1371.7,2456.9 1371.7,2455.1 L1371.7,2443.2 L1349.2,2443.2 Q1346.8,2443.2 1346.8,2440.8 Z" fill="#fff" stroke="#000" stroke-width="2.3" stroke-linejoin="round"/>
<text x="939.86" y="645.9" font-size="31.8" font-weight="bold" fill="#000" stroke="#000" stroke-width="1.8" stroke-linejoin="round" letter-spacing="0.8" textLength="123.20" lengthAdjust="spacingAndGlyphs" >Usines</text>
<text x="901.48" y="686.6" font-size="31.8" font-weight="bold" fill="#000" stroke="#000" stroke-width="1.8" stroke-linejoin="round" letter-spacing="0.8" textLength="198.45" lengthAdjust="spacingAndGlyphs" >papetières</text>
<text x="804.25" y="1163.6" font-size="31.8" font-weight="bold" fill="#000" stroke="#000" stroke-width="1.8" stroke-linejoin="round" letter-spacing="0.8" textLength="366.18" lengthAdjust="spacingAndGlyphs" >Usines de recyclage</text>
<text x="901.30" y="1204.4" font-size="31.8" font-weight="bold" fill="#000" stroke="#000" stroke-width="1.8" stroke-linejoin="round" letter-spacing="0.8" textLength="171.75" lengthAdjust="spacingAndGlyphs" >plastique</text>
<text x="289.03" y="408.0" font-size="49.9" font-weight="bold" fill="#000" stroke="#000" stroke-width="2.3" stroke-linejoin="round" letter-spacing="1.6" textLength="276.14" lengthAdjust="spacingAndGlyphs" >PAPIER &amp;</text>
<text x="297.15" y="463.5" font-size="49.9" font-weight="bold" fill="#000" stroke="#000" stroke-width="2.3" stroke-linejoin="round" letter-spacing="1.6" textLength="261.14" lengthAdjust="spacingAndGlyphs" >CARTON</text>
<text x="1449.63" y="412.2" font-size="49.9" font-weight="bold" fill="#000" stroke="#000" stroke-width="2.3" stroke-linejoin="round" letter-spacing="1.6" textLength="220.57" lengthAdjust="spacingAndGlyphs" >BRIQUE</text>
<text x="1370.80" y="468.7" font-size="49.9" font-weight="bold" fill="#000" stroke="#000" stroke-width="2.3" stroke-linejoin="round" letter-spacing="1.6" textLength="393.97" lengthAdjust="spacingAndGlyphs" >ALIMENTAIRE</text>
<text x="268.11" y="1104.2" font-size="49.9" font-weight="bold" fill="#fff" stroke="#fff" stroke-width="2.3" stroke-linejoin="round" letter-spacing="1.6" textLength="316.67" lengthAdjust="spacingAndGlyphs" >PET CLAIR</text>
<text x="1423.28" y="1107.6" font-size="49.9" font-weight="bold" fill="#fff" stroke="#fff" stroke-width="2.3" stroke-linejoin="round" letter-spacing="1.6" textLength="275.60" lengthAdjust="spacingAndGlyphs" >PEHD/PP</text>
<text x="795.19" y="1480.5" font-size="49.9" font-weight="bold" fill="#fff" stroke="#fff" stroke-width="2.3" stroke-linejoin="round" letter-spacing="1.6" textLength="403.16" lengthAdjust="spacingAndGlyphs" >EMBALLAGES</text>
<text x="766.28" y="1538.6" font-size="49.9" font-weight="bold" fill="#fff" stroke="#fff" stroke-width="2.3" stroke-linejoin="round" letter-spacing="1.6" textLength="463.85" lengthAdjust="spacingAndGlyphs" >SOUPLES EN PE</text>
<text x="464.40" y="2106.8" font-size="49.9" font-weight="bold" fill="#fff" stroke="#fff" stroke-width="2.3" stroke-linejoin="round" letter-spacing="1.6" textLength="183.66" lengthAdjust="spacingAndGlyphs" >ACIER</text>
<text x="1251.09" y="2106.5" font-size="49.9" font-weight="bold" fill="#fff" stroke="#fff" stroke-width="2.3" stroke-linejoin="round" letter-spacing="1.6" textLength="371.61" lengthAdjust="spacingAndGlyphs" >ALUMINIUM</text>
<text x="195.60" y="1144.8" font-size="36.3" font-weight="normal" fill="#fff" textLength="450.10" lengthAdjust="spacingAndGlyphs" >(bouteille d'eau et barquette)</text>
<text x="1497.40" y="1147.3" font-size="36.3" font-weight="normal" fill="#fff" textLength="130.11" lengthAdjust="spacingAndGlyphs" >(flacons)</text>
<text x="275.43" y="2439.0" font-size="35.5" font-weight="normal" fill="#fff" textLength="120.09" lengthAdjust="spacingAndGlyphs" >Aciéries</text>
<text x="1128.86" y="2413.0" font-size="35.5" font-weight="normal" fill="#fff" textLength="148.44" lengthAdjust="spacingAndGlyphs" >Fonderies</text>
<text x="1113.98" y="2453.7" font-size="35.5" font-weight="normal" fill="#fff" textLength="179.35" lengthAdjust="spacingAndGlyphs" >d'aluminium</text>
<rect x="239.4" y="806.7" width="354.4" height="43.8" fill="#FFED3F"/>
<rect x="259.6" y="850.3" width="313.7" height="43.6" fill="#FFED3F"/>
<text x="249.91" y="840.3" font-size="35.5" font-weight="normal" fill="#000" textLength="334.04" lengthAdjust="spacingAndGlyphs" >Nouveaux emballages,</text>
<text x="271.40" y="880.5" font-size="35.5" font-weight="normal" fill="#000" textLength="290.67" lengthAdjust="spacingAndGlyphs" >papiers et journaux</text>
<rect x="1427.1" y="778.5" width="276.9" height="43.7" fill="#FFED3F"/>
<text x="1446.41" y="810.6" font-size="35.5" font-weight="normal" fill="#000" textLength="240.17" lengthAdjust="spacingAndGlyphs" >Papiers recyclés</text>
<rect x="258.8" y="1503.0" width="335.0" height="87.5" fill="#FFED3F"/>
<text x="268.77" y="1536.3" font-size="35.5" font-weight="normal" fill="#000" textLength="316.53" lengthAdjust="spacingAndGlyphs" >Nouvelles bouteilles,</text>
<text x="277.87" y="1575.8" font-size="35.5" font-weight="normal" fill="#000" textLength="296.69" lengthAdjust="spacingAndGlyphs" >barquettes de fruits</text>
<rect x="1432.5" y="1473.2" width="276.1" height="44.0" fill="#FFED3F"/>
<rect x="1425.9" y="1517.0" width="287.8" height="43.5" fill="#FFED3F"/>
<rect x="1504.1" y="1560.3" width="130.2" height="34.1" fill="#FFED3F"/>
<text x="1446.42" y="1506.1" font-size="35.5" font-weight="normal" fill="#000" textLength="251.95" lengthAdjust="spacingAndGlyphs" >Tuyaux, mobilier</text>
<text x="1441.91" y="1546.0" font-size="35.5" font-weight="normal" fill="#000" textLength="258.15" lengthAdjust="spacingAndGlyphs" >urbain, nouveaux</text>
<text x="1519.13" y="1586.3" font-size="35.5" font-weight="normal" fill="#000" textLength="104.66" lengthAdjust="spacingAndGlyphs" >flacons</text>
<rect x="829.7" y="1827.8" width="335.0" height="87.9" fill="#FFED3F"/>
<text x="883.18" y="1860.3" font-size="35.5" font-weight="normal" fill="#000" textLength="226.62" lengthAdjust="spacingAndGlyphs" >Nouveaux sacs</text>
<text x="863.17" y="1901.0" font-size="35.5" font-weight="normal" fill="#000" textLength="267.95" lengthAdjust="spacingAndGlyphs" >et films plastiques</text>
<rect x="601.0" y="2382.3" width="314.3" height="44.9" fill="#FFED3F"/>
<rect x="606.0" y="2427.0" width="304.0" height="43.3" fill="#FFED3F"/>
<text x="608.56" y="2416.3" font-size="35.5" font-weight="normal" fill="#000" textLength="298.94" lengthAdjust="spacingAndGlyphs" >Pièces automobiles,</text>
<text x="614.52" y="2456.8" font-size="35.5" font-weight="normal" fill="#000" textLength="286.09" lengthAdjust="spacingAndGlyphs" >boîtes de conserve</text>
<rect x="1452.7" y="2382.9" width="310.3" height="43.7" fill="#FFED3F"/>
<rect x="1445.5" y="2426.4" width="325.3" height="44.2" fill="#FFED3F"/>
<text x="1463.85" y="2415.8" font-size="35.5" font-weight="normal" fill="#000" textLength="289.36" lengthAdjust="spacingAndGlyphs" >Pièces mécaniques,</text>
<text x="1456.50" y="2456.8" font-size="35.5" font-weight="normal" fill="#000" textLength="302.57" lengthAdjust="spacingAndGlyphs" >cadres de trotinette</text>
<g transform="translate(320,505) scale(0.14085)" stroke="#000" stroke-width="15" stroke-linejoin="round">
<polygon points="95,960 660,290 1058,700 385,1510" fill="#FCEA4F" stroke="#000" />
<polygon points="385,1510 1058,700 1385,985 810,1652" fill="#FCEA4F" stroke="#000" />
<polygon points="820,105 1285,270 1085,500" fill="#000" stroke="#000" />
<polygon points="1285,270 1560,750 1130,605 1085,500" fill="#F09A7C" stroke="#000" />
<polygon points="655,285 700,255 1000,720 1058,700 940,775" fill="#000" stroke="#000" />
<polygon points="1125,605 1000,830 1050,865 1385,985 1500,1000" fill="#000" stroke="#000" />
<polygon points="635,180 820,105 1125,605 940,770" fill="#FCEA4F" stroke="#000" />
<polygon points="652,190 812,126 826,150 668,214" fill="#fff" stroke="none" />
<polygon points="1130,610 1560,750 1500,1000 1050,865" fill="#FCEA4F" stroke="#000" />
<polygon points="1132,628 1170,640 1100,872 1064,860" fill="#fff" stroke="none" />
</g>
<g transform="translate(1440,500) scale(0.15258)" stroke="#000" stroke-width="22" stroke-linejoin="round" stroke-linecap="round">
<polygon points="975,415 1135,368 1540,492 1240,605 975,525" fill="#A8D5B0" stroke="#000" />
<polygon points="975,520 1240,605 1245,1450 975,1340" fill="#A8D5B0" stroke="#000" />
<polygon points="1240,605 1540,490 1540,1330 1245,1450" fill="#6E9E75" stroke="#000" />
<path d="M1240,605 L1395,745 L1450,720 L1540,490 Z" fill="#A8D5B0"/>
<path d="M1250,625 L1395,750 L1445,728" fill="none" stroke-width="36"/>
<polygon points="133,335 615,425 620,1480 130,1285" fill="#FBEA4F" stroke="#000" />
<polygon points="615,425 970,345 970,1340 620,1480" fill="#D49E00" stroke="#000" />
<path d="M133,335 L770,130 C710,210 650,320 615,425 Z" fill="#FBEA4F"/>
<path d="M615,425 C650,320 710,210 770,130 L885,190 L970,345 Z" fill="#D49E00"/>
<polygon points="760,148 870,205 825,282 715,228" fill="#432E0C" stroke="#000" stroke-width="10" />
<path d="M133,555 C260,470 360,570 610,705 C750,660 860,600 970,520" fill="none"/>
<path d="M133,995 C260,910 360,1010 610,1150 C750,1100 860,1040 970,965" fill="none"/>
</g>
<g transform="translate(265,1215) scale(0.18779)" stroke="#000" stroke-width="13" stroke-linejoin="round" stroke-linecap="round">
<path d="M95,640 L205,915 Q215,940 240,955 L650,1185 Q740,1235 815,1190 L1460,810 Q1490,790 1500,760 L1585,540 L800,400 Z" fill="#157AC7"/>
<path d="M160,500 L830,115 Q945,50 1060,110 L1540,400 Q1665,480 1560,570 L850,975 Q740,1035 640,975 L130,680 Q15,600 160,500 Z" fill="#2FA0E0"/>
<path d="M230,525 L850,160 Q945,105 1040,160 L1490,420 Q1600,490 1500,545 L830,925 Q740,975 650,925 L200,670 Q95,600 230,525 Z" fill="#157AC7"/>
<path d="M390,745 L900,450 Q945,425 990,450 L1300,632" fill="none"/>
<path d="M285,625 L310,705 M365,578 L400,725 M450,530 L485,675 M535,485 L570,625 M620,435 L650,580 M700,390 L730,530 M785,345 L810,480 M868,295 L890,435 M1022,295 L1005,435 M1095,340 L1080,480 M1168,380 L1155,525 M1240,425 L1225,570 M1313,470 L1300,615 M1385,515 L1380,590 M228,800 L255,935 M308,845 L330,985 M388,888 L412,1030 M468,933 L487,1075 M548,975 L565,1120 M630,1020 L640,1165 M838,1025 L838,1160 M925,975 L920,1115 M1015,920 L1010,1060 M1105,870 L1095,1010 M1195,818 L1185,960 M1285,765 L1272,905 M1375,712 L1360,855 M1465,660 L1445,800" fill="none" stroke-width="15"/>
</g>
<g transform="translate(1470,1175) scale(0.12362)">
<path d="M248,490 C190,560 150,640 160,760 L430,1930 C460,2040 540,2085 620,2078 C800,2062 1000,2022 1180,1962 C1290,1920 1345,1850 1322,1740 L1050,620 C1010,480 900,390 810,355 Z" fill="#000"/>
<path d="M300,500 C230,560 195,650 200,750 L465,1900 C490,2000 550,2040 630,2035 C760,2025 900,2000 950,1970 C1060,1900 1100,1700 1095,1500 C1090,1200 1060,800 1010,640 C970,520 880,430 790,395 Z" fill="#82CFF5"/>
<path d="M335,515 C270,580 255,650 270,760 L535,1830 C560,1930 620,1985 720,1992" fill="none" stroke="#fff" stroke-width="22" stroke-linecap="round"/>
<path d="M248,490 C215,300 330,130 520,115 C680,105 780,220 812,355 Z" fill="#000" stroke="#000" stroke-width="10" stroke-linejoin="round"/>
<path d="M290,462 C275,360 310,270 370,235 C390,280 440,300 480,298 C540,290 590,240 585,175 C680,170 740,260 768,348 Z" fill="#009FE3"/>
<path d="M410,215 L545,183 C545,240 510,265 470,262 C435,258 415,240 410,215 Z" fill="#73CDF3"/>
</g>
<defs><filter id="bl" x="-10%" y="-10%" width="120%" height="120%"><feGaussianBlur stdDeviation="12"/></filter><clipPath id="bagclip"><polygon points="700,250 780,245 800,330 850,340 1000,370 1040,450 1090,470 1150,430 1210,440 1240,520 1290,620 1340,730 1380,860 1395,1050 1400,1250 1430,1450 1440,1560 1410,1610 1300,1660 1150,1740 1000,1800 870,1840 820,1810 770,1740 640,1650 520,1540 450,1420 390,1240 330,1000 295,800 285,660 300,570 340,560 360,600 430,560 500,470 600,350 660,280"/></clipPath></defs>
<g transform="translate(880,1540) scale(0.14085)">
<polygon points="700,250 780,245 800,330 850,340 1000,370 1040,450 1090,470 1150,430 1210,440 1240,520 1290,620 1340,730 1380,860 1395,1050 1400,1250 1430,1450 1440,1560 1410,1610 1300,1660 1150,1740 1000,1800 870,1840 820,1810 770,1740 640,1650 520,1540 450,1420 390,1240 330,1000 295,800 285,660 300,570 340,560 360,600 430,560 500,470 600,350 660,280" fill="#fff" stroke="#fff" stroke-width="135" stroke-linejoin="round"/>
<g clip-path="url(#bagclip)"><g filter="url(#bl)">
<rect x="150" y="100" width="1450" height="1900" fill="#EEEAF0"/>
<polygon points="660,240 800,240 820,350 640,420" fill="#CFCAD2" stroke="none" />
<polygon points="1080,440 1250,430 1400,800 1150,720" fill="#D8D2DA" stroke="none" />
<polygon points="290,560 430,560 520,900 330,980" fill="#DAD4DC" stroke="none" />
<polygon points="600,560 900,520 980,1150 700,1150" fill="#F8F6F9" stroke="none" />
<polygon points="700,1300 950,1250 900,1700 760,1650" fill="#F3EFF4" stroke="none" />
<polygon points="580,440 860,340 1000,370 1040,455 900,440 620,545" fill="#C8306C" stroke="none" />
<polygon points="560,560 640,540 560,760 480,820" fill="#EBC3DA" stroke="none" />
<polygon points="1150,730 1330,790 1370,1000 1330,1250 1420,1500 1400,1570 1230,1520 1180,1400 1130,1330 1200,1000 1180,800" fill="#C75A90" stroke="none" />
<polygon points="455,985 560,975 620,1080 650,1250 600,1300 540,1200" fill="#D6558A" stroke="none" />
<polygon points="310,880 360,900 490,1470 440,1450" fill="#D85A8E" stroke="none" />
<polygon points="370,1000 460,1020 520,1220 420,1200" fill="#C6E3F3" stroke="none" />
<polygon points="710,1160 830,1160 830,1290 720,1280" fill="#6FA8DC" stroke="none" />
<polygon points="1050,930 1140,900 1130,1060 1060,1050" fill="#9CC8E8" stroke="none" />
<polygon points="950,700 1100,720 1080,900 1000,980" fill="#F0B0D0" stroke="none" />
<polygon points="580,1580 760,1620 960,1700 930,1880 760,1850" fill="#7DB5E0" stroke="none" />
<polygon points="920,1550 1300,1500 1400,1700 1000,1800" fill="#E3A0C0" stroke="none" />
<polygon points="560,1480 660,1490 660,1580 570,1580" fill="#E58AB0" stroke="none" />
<polygon points="960,1360 1100,1370 1095,1425 970,1415" fill="#9B6FA5" stroke="none" />
</g></g>
</g>
<g transform="translate(250,2150) scale(0.10071)" stroke-linejoin="round" stroke-linecap="round">
<path d="M180,520 L365,1990 C420,2080 700,2085 1000,2015 C1300,1950 1480,1900 1512,1830 L1325,400 C1200,300 500,400 180,520 Z" fill="#000" stroke="#000" stroke-width="20"/>
<path d="M225,630 C500,690 1000,620 1305,490 L1482,1820 C1450,1880 1300,1930 1130,1975 C900,1900 700,1800 600,1680 C450,1450 300,1100 225,630 Z" fill="#93CBEF"/>
<polygon points="1040,610 1150,575 1310,1930 1210,1955" fill="#fff" stroke="none" />
<polygon points="1205,555 1255,535 1420,1890 1370,1910" fill="#fff" stroke="none" />
<path d="M265,940 Q751,1008 1345,790" fill="none" stroke="#000" stroke-width="32"/>
<path d="M280,1055 Q766,1120 1360,900" fill="none" stroke="#000" stroke-width="32"/>
<path d="M305,1170 Q786,1235 1375,1015" fill="none" stroke="#000" stroke-width="32"/>
<path d="M350,1290 Q818,1351 1390,1125" fill="none" stroke="#000" stroke-width="32"/>
<path d="M410,1405 Q858,1466 1405,1240" fill="none" stroke="#000" stroke-width="32"/>
<path d="M475,1515 Q900,1576 1420,1350" fill="none" stroke="#000" stroke-width="32"/>
<path d="M545,1620 Q946,1685 1435,1465" fill="none" stroke="#000" stroke-width="32"/>
<path d="M640,1740 Q1004,1803 1450,1580" fill="none" stroke="#000" stroke-width="32"/>
<g transform="rotate(-6 750 500)"><ellipse cx="750" cy="500" rx="572" ry="135" fill="#000" stroke="#000" stroke-width="30"/>
<path d="M210,500 A545,110 0 0 0 1300,500" fill="none" stroke="#3F9AE0" stroke-width="22"/></g>
<polygon points="330,515 385,500 390,575 335,565" fill="#7E8EC5" stroke="none" />
<polygon points="455,480 625,440 635,570 465,575" fill="#7E8EC5" stroke="none" />
<ellipse cx="757" cy="272" rx="560" ry="95" transform="rotate(10.6 757 272)" fill="#93CBEF" stroke="#000" stroke-width="36"/>
</g>
<g transform="translate(600,2150) scale(0.18192)" stroke="#000" stroke-width="9" stroke-linejoin="round" stroke-linecap="round">
<ellipse cx="815" cy="815" rx="130" ry="170" fill="#000" stroke="none"/>
<ellipse cx="1470" cy="620" rx="80" ry="125" fill="#000" stroke="none"/>
<path d="M140,745 C160,800 200,830 260,832 L300,800 Z" fill="#000" stroke="none"/>
<ellipse cx="770" cy="900" rx="172" ry="205" fill="#3C3C3B"/>
<ellipse cx="790" cy="905" rx="120" ry="160" fill="none" stroke-width="7"/>
<ellipse cx="800" cy="910" rx="65" ry="88" fill="#000"/>
<ellipse cx="1435" cy="650" rx="105" ry="128" fill="#3C3C3B"/>
<ellipse cx="1455" cy="650" rx="70" ry="100" fill="none" stroke-width="7"/>
<ellipse cx="1468" cy="650" rx="42" ry="68" fill="#000"/>
<path d="M455,305 C500,230 560,130 640,95 C800,65 1100,50 1250,60 C1350,70 1420,100 1450,140 C1500,200 1520,260 1545,300 C1590,340 1600,400 1598,450 C1595,520 1580,570 1555,600 C1540,540 1500,490 1455,500 C1390,530 1370,620 1335,690 L960,850 C950,750 900,655 820,655 C740,670 680,800 640,900 C620,940 600,945 585,940 L150,760 C110,720 95,660 100,620 C100,560 100,500 108,462 C140,425 190,408 240,398 Z" fill="#EC7482"/>
<path d="M760,75 C1000,52 1250,52 1410,115 C1300,95 1000,90 760,75 Z" fill="#F2A1AD" stroke="none"/>
<path d="M108,462 C140,425 190,408 240,398 L300,378 L160,515 Z" fill="#000" stroke="none"/>
<path d="M155,520 C200,440 300,380 455,335 C600,320 800,360 905,475 L520,575 C490,590 480,610 465,620 C440,625 420,618 400,610 Z" fill="#EF9A7A"/>
<path d="M530,585 C600,560 660,555 710,560" fill="none" stroke-width="7"/>
<path d="M495,285 C520,240 560,170 620,135 C700,115 900,130 960,160 C985,180 985,210 975,240 L935,330 C920,360 890,370 860,365 L520,300 C500,298 490,292 495,285 Z" fill="#000"/>
<polygon points="740,135 790,130 900,355 865,360" fill="#6EC6EE" stroke="none" />
<polygon points="815,135 835,138 930,330 915,345" fill="#6EC6EE" stroke="none" />
<path d="M1020,380 C1010,350 1030,280 1060,220 C1080,190 1150,180 1240,175 C1260,180 1270,200 1272,230 L1290,330 C1280,350 1260,360 1240,365 L1050,405 C1030,405 1022,395 1020,380 Z" fill="#000"/>
<polygon points="1150,195 1195,188 1270,350 1240,358" fill="#6EC6EE" stroke="none" />
<polygon points="1215,185 1240,182 1280,290 1275,330" fill="#6EC6EE" stroke="none" />
<path d="M1320,180 C1330,160 1350,152 1380,152 C1420,155 1440,165 1450,185 C1470,230 1480,270 1480,290 C1478,310 1465,320 1440,325 L1370,342 C1350,345 1340,335 1335,315 Z" fill="#000"/>
<path d="M1290,140 C1150,150 1080,160 1045,190 C1010,240 980,330 965,400 C960,450 980,500 985,560 L985,760 C990,790 1005,800 1030,790 L1320,690 C1340,680 1345,660 1342,630 L1340,450 C1330,350 1310,250 1290,140" fill="none" stroke-width="8"/>
<path d="M1238,452 L1305,441" fill="none" stroke="#000" stroke-width="30"/><path d="M1238,452 L1305,441" fill="none" stroke="#EF9A7A" stroke-width="16"/>
<ellipse cx="1518" cy="380" rx="22" ry="16" fill="#EF9A7A" stroke-width="7"/>
<ellipse cx="548" cy="665" rx="55" ry="70" fill="#EF9A7A"/>
<ellipse cx="520" cy="668" rx="43" ry="62" fill="#fff"/>
<ellipse cx="125" cy="498" rx="25" ry="45" fill="#EF9A7A"/>
<ellipse cx="103" cy="505" rx="27" ry="50" fill="#fff"/>
<polygon points="150,645 408,740 405,815 148,705" fill="#fff" stroke="#000" />
</g>
<g transform="translate(1135,2150) scale(0.10071)" stroke="#000" stroke-width="16" stroke-linejoin="round" stroke-linecap="round">
<path d="M150,1800 C200,1950 400,2060 650,2085 C850,2095 1000,2060 1060,1960 L1115,1880 L1000,1700 Z" fill="#000"/>
<path d="M375,280 L245,550 L110,1770 C150,1860 300,1940 600,1960 C800,1965 950,1950 1050,1935 L1115,1880 L1250,660 L1185,360 C1100,250 600,180 375,280 Z" fill="#93CBEF"/>
<path d="M1165,1300 C1100,1600 950,1900 560,1945 C700,1965 900,1965 1050,1935 L1115,1872 Z" fill="#000" stroke="none"/>
<path d="M160,1845 C400,1965 800,2000 1050,1938 L1030,1985 C800,2040 400,2005 200,1895 Z" fill="#4A9EE0" stroke="none"/>
<polygon points="470,410 550,450 470,640 430,900 330,1850 235,1820 350,900 380,640" fill="#fff" stroke="none" />
<path d="M245,565 C500,700 900,775 1250,668" fill="none" stroke-width="14"/>
<g transform="rotate(8 780 340)"><ellipse cx="780" cy="340" rx="408" ry="118" fill="#93CBEF"/>
<ellipse cx="785" cy="328" rx="385" ry="95" fill="#000" stroke="none"/>
<ellipse cx="770" cy="345" rx="370" ry="85" fill="#4A9EE0" stroke="none"/>
<ellipse cx="690" cy="372" rx="140" ry="50" fill="#000" stroke="none"/></g>
<g transform="rotate(32 790 240)"><ellipse cx="790" cy="240" rx="92" ry="142" fill="#93CBEF" stroke-width="14"/>
<ellipse cx="790" cy="185" rx="42" ry="52" fill="#9BC5A0" stroke-width="12"/>
<rect x="750" y="265" width="80" height="75" rx="22" fill="#4A9EE0" stroke-width="12"/></g>
</g>
<g transform="translate(1520,2150) scale(0.11150)" stroke="#000" stroke-width="14" stroke-linejoin="round" stroke-linecap="round">
<ellipse cx="250" cy="1535" rx="118" ry="140" fill="#2B2B2B"/><ellipse cx="370" cy="1545" rx="100" ry="135" fill="#2B2B2B" stroke-width="8"/><ellipse cx="375" cy="1522" rx="45" ry="65" fill="#1D1D1B" stroke="none"/>
<ellipse cx="1290" cy="1610" rx="105" ry="75" fill="#2B2B2B"/><ellipse cx="1385" cy="1615" rx="108" ry="82" fill="#2B2B2B" stroke-width="8"/>
<polygon points="545,345 685,375 400,1345 255,1320" fill="#F3A1C6" stroke="#000" />
<path d="M300,1228 C380,1210 430,1180 458,1140 L400,1345 L255,1320 Z" fill="#1D1D1B" stroke="none"/>
<polygon points="545,345 685,375 400,1345 255,1320" fill="none" stroke="#000" />
<path d="M1000,1622 L1480,1600 C1530,1570 1560,1520 1555,1440 L1430,1540 L1050,1565 Z" fill="#1D1D1B"/>
<path d="M500,1420 L1260,1365 C1350,1360 1380,1300 1450,1300 C1530,1305 1560,1380 1555,1430 C1550,1500 1480,1535 1430,1540 L900,1565 C700,1570 580,1500 500,1420 Z" fill="#8FCB9F"/>
<path d="M110,1310 C95,1340 100,1370 130,1395 L380,1430 C450,1480 520,1560 700,1600 C850,1625 1000,1612 1100,1572 L1050,1562 C850,1572 650,1560 540,1470 C480,1420 470,1370 440,1350 L125,1310 Z" fill="#E6007E"/>
<path d="M325,207 L985,352" fill="none" stroke="#000" stroke-width="158"/>
<path d="M325,207 L960,347" fill="none" stroke="#E6007E" stroke-width="130"/>
<ellipse cx="982" cy="355" rx="64" ry="80" transform="rotate(12 982 355)" fill="#1D1D1B" stroke="none"/>
<path d="M440,175 C385,195 375,255 400,285" fill="none" stroke="#fff" stroke-width="9"/>
</g>
</svg></body></html>
